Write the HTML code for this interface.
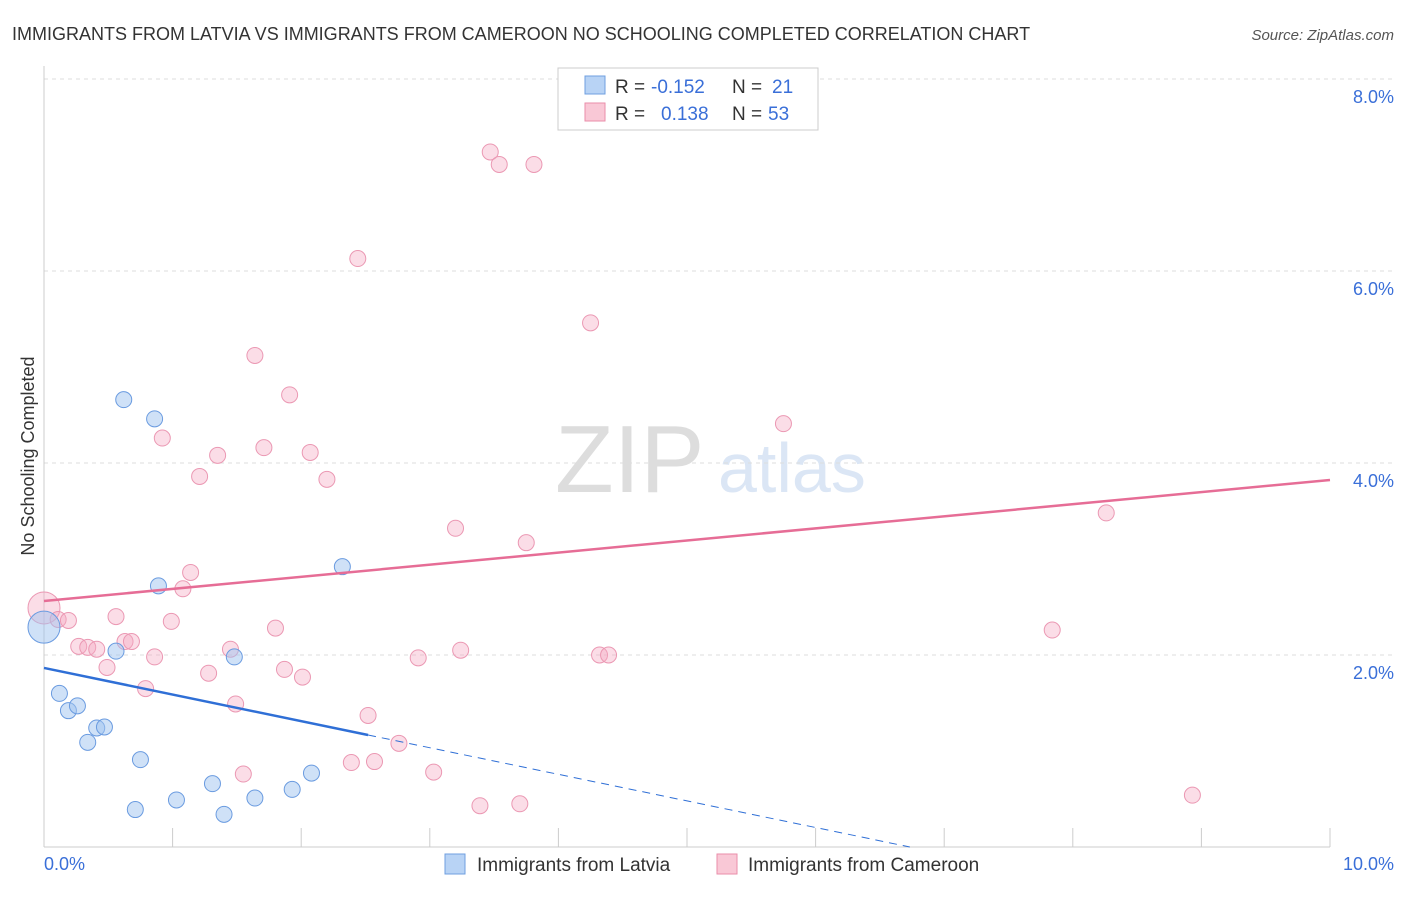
<!DOCTYPE html>
<html><head><meta charset="utf-8"><style>
body{margin:0;background:#fff;font-family:"Liberation Sans",sans-serif;}
svg text{font-family:"Liberation Sans",sans-serif;}
</style></head><body>
<svg id="c" width="1406" height="892">
<text x="12" y="40" font-size="18" fill="#333">IMMIGRANTS FROM LATVIA VS IMMIGRANTS FROM CAMEROON NO SCHOOLING COMPLETED CORRELATION CHART</text>
<text x="1394" y="40" font-size="15" fill="#555" font-style="italic" text-anchor="end">Source: ZipAtlas.com</text>
<text transform="translate(34,456) rotate(-90)" font-size="18" fill="#333" text-anchor="middle">No Schooling Completed</text>
<text x="555" y="492" font-size="96" fill="#ddd" font-family="Liberation Serif">ZIP</text>
<text x="718" y="492" font-size="70" fill="#dbe6f5">atlas</text>
<g id="grid"></g><g id="axes"></g><g id="marks"></g>
<g>
<rect x="558" y="68" width="260" height="62" fill="#fff" stroke="#ccc"/>
<rect x="585" y="76" width="20" height="18" fill="#b8d3f5" stroke="#6f9fe0"/>
<text x="615" y="93" font-size="19" fill="#333">R = </text><text x="651" y="93" font-size="19" fill="#3a6fd8">-0.152</text>
<text x="732" y="93" font-size="19" fill="#333">N = </text><text x="772" y="93" font-size="19" fill="#3a6fd8">21</text>
<rect x="585" y="103" width="20" height="18" fill="#f9c8d6" stroke="#ea8eaa"/>
<text x="615" y="120" font-size="19" fill="#333">R = </text><text x="661" y="120" font-size="19" fill="#3a6fd8">0.138</text>
<text x="732" y="120" font-size="19" fill="#333">N = </text><text x="768" y="120" font-size="19" fill="#3a6fd8">53</text>
</g>
<g>
<rect x="445" y="854" width="20" height="20" fill="#b8d3f5" stroke="#6f9fe0"/>
<text x="477" y="871" font-size="19" fill="#333">Immigrants from Latvia</text>
<rect x="717" y="854" width="20" height="20" fill="#f9c8d6" stroke="#ea8eaa"/>
<text x="748" y="871" font-size="19" fill="#333">Immigrants from Cameroon</text>
</g>
</svg>
<script>
const yTicks=[2,4,6,8];
const xTicks=[1,2,3,4,5,6,7,8,9,10];
const latviaX=[0,0.12,0.19,0.26,0.34,0.41,0.47,0.56,0.62,0.75,0.71,0.86,0.89,1.03,1.31,1.40,1.48,1.64,1.93,2.08,2.32];
const latviaY=[2.29,1.60,1.42,1.47,1.09,1.24,1.25,2.04,4.66,0.91,0.39,4.46,2.72,0.49,0.66,0.34,1.98,0.51,0.60,0.77,2.92];
const camX=[0,0.11,0.19,0.27,0.34,0.41,0.49,0.56,0.63,0.68,0.79,0.86,0.92,0.99,1.08,1.14,1.21,1.28,1.35,1.45,1.49,1.55,1.64,1.71,1.80,1.87,1.91,2.01,2.07,2.20,2.39,2.44,2.52,2.57,2.76,2.91,3.03,3.20,3.24,3.39,3.47,3.54,3.70,3.75,3.81,4.25,4.32,4.39,4.67,5.75,7.84,8.26,8.93];
const camY=[2.49,2.37,2.36,2.09,2.08,2.06,1.87,2.40,2.14,2.14,1.65,1.98,4.26,2.35,2.69,2.86,3.86,1.81,4.08,2.06,1.49,0.76,5.12,4.16,2.28,1.85,4.71,1.77,4.11,3.83,0.88,6.13,1.37,0.89,1.08,1.97,0.78,3.32,2.05,0.43,7.24,7.11,0.45,3.17,7.11,5.46,2.00,2.00,8.00,4.41,2.26,3.48,0.54];
const camTrend=[2.5625,3.823];
const latTrend=[1.865,-0.277];
const X=v=>44+v*128.6, Y=v=>847-v*96;
const ns="http://www.w3.org/2000/svg";
function mk(t,p,a){const e=document.createElementNS(ns,t);for(const k in a)e.setAttribute(k,a[k]);document.getElementById(p).appendChild(e);return e;}
yTicks.forEach(t=>{
 const l=mk('line','grid',{x1:44,x2:1394,y1:Y(t),y2:Y(t),stroke:'#ddd','stroke-dasharray':'4,4'});
 
 
 const tx=mk('text','grid',{x:1394,y:Y(t)+24,'font-size':18,fill:'#3a6fd8','text-anchor':'end'});
 tx.textContent=t.toFixed(1)+'%';
 
 
});
mk('line','axes',{x1:44,x2:44,y1:66,y2:847,stroke:'#ccc'});
mk('line','axes',{x1:44,x2:1330,y1:847,y2:847,stroke:'#ccc'});
xTicks.forEach(t=>{
 const l=mk('line','axes',{x1:X(t),x2:X(t),y1:828,y2:847,stroke:'#ccc'});
 
 
});
[[0,'0.0%','start',44],[10,'10.0%','end',1394]].forEach(a=>{
 const tx=mk('text','axes',{x:a[3],y:870,'font-size':18,fill:'#3a6fd8','text-anchor':a[2]});
 tx.textContent=a[1];
 
 
});
camX.forEach((x,i)=>{
 const c=mk('circle','marks',{cx:X(x),cy:Y(camY[i]),r:i==0?16:8,fill:'rgba(246,170,195,0.4)',stroke:'#eb98b3','stroke-width':1});
 
 
});
latviaX.forEach((x,i)=>{
 const c=mk('circle','marks',{cx:X(x),cy:Y(latviaY[i]),r:i==0?16:8,fill:'rgba(160,195,240,0.5)',stroke:'#6a9be0','stroke-width':1});
 
 
});
const pl=mk('line','marks',{x1:X(0),y1:Y(camTrend[0]),x2:X(10),y2:Y(camTrend[1]),stroke:'#e66d96','stroke-width':2.5});


const bl=mk('line','marks',{x1:X(0),y1:Y(latTrend[0]),x2:X(2.52),y2:Y(latTrend[0]+latTrend[1]*2.52),stroke:'#2f6fd6','stroke-width':2.5});


const xe=-latTrend[0]/latTrend[1];
const bd=mk('line','marks',{x1:X(2.52),y1:Y(latTrend[0]+latTrend[1]*2.52),x2:X(xe),y2:Y(0),stroke:'#2f6fd6','stroke-width':1,'stroke-dasharray':'8,6'});


</script>
</body></html>
